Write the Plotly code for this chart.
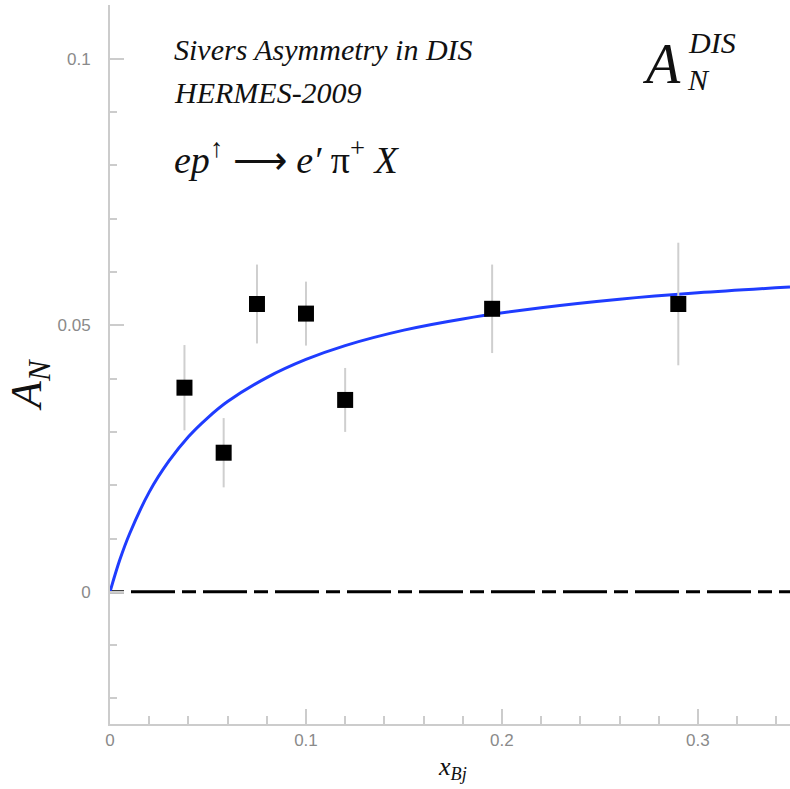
import plotly.graph_objects as go

# ---- data ----
x_data = [0.038, 0.058, 0.075, 0.100, 0.120, 0.195, 0.290]
y_data = [0.0383, 0.0261, 0.0540, 0.0522, 0.0360, 0.0531, 0.0540]
y_err = [0.0080, 0.0065, 0.0074, 0.0060, 0.0060, 0.0083, 0.0115]

x_curve = [0.0, 0.005, 0.01, 0.02, 0.03, 0.04, 0.05, 0.06, 0.08, 0.10,
           0.12, 0.15, 0.18, 0.22, 0.26, 0.30, 0.347]
y_curve = [0.0, 0.0060, 0.0109, 0.0187, 0.0245, 0.0291, 0.0327, 0.0357,
           0.0402, 0.0436, 0.0462, 0.0491, 0.0512, 0.0533, 0.0549, 0.0561, 0.0572]

x_zero = [0.0, 0.347]
y_zero = [0.0, 0.0]

x_ticks = [0, 0.1, 0.2, 0.3]
x_ticklabels = ["0", "0.1", "0.2", "0.3"]
y_ticks = [0, 0.05, 0.1]
y_ticklabels = ["0", "0.05", "0.1"]

X_RANGE = [0.0, 0.347]
Y_RANGE = [-0.0248, 0.1101]

W, H = 790, 789
ML, MR, MT, MB = 110, 0, 5, 65


def px(x):
    return (x - ML) / (W - ML - MR)


def py(y):
    return (H - MB - y) / (H - MT - MB)


fig = go.Figure()

fig.add_trace(go.Scatter(
    x=x_zero, y=y_zero, mode="lines",
    line=dict(color="black", width=3, dash="14px,7px,44px,7px"),
    hoverinfo="skip", showlegend=False))

fig.add_trace(go.Scatter(
    x=x_curve, y=y_curve, mode="lines",
    line=dict(color="#1f3cff", width=3, shape="spline"),
    showlegend=False))

fig.add_trace(go.Scatter(
    x=x_data, y=y_data, mode="markers",
    marker=dict(symbol="square", size=16, color="black"),
    error_y=dict(type="data", array=y_err, visible=True,
                 color="#cfcfcf", thickness=2, width=0),
    showlegend=False))

axis_common = dict(
    showgrid=False, zeroline=False, showline=True,
    linecolor="#cccccc", linewidth=2,
    ticks="inside", tickcolor="#cccccc", tickwidth=1.5,
    tickfont=dict(family="Liberation Sans", size=17, color="#8a8a8a"),
)

fig.update_xaxes(
    range=X_RANGE, tickvals=x_ticks, ticktext=x_ticklabels, ticklen=15,
    minor=dict(dtick=0.02, ticks="inside", ticklen=8, tickcolor="#cccccc", tickwidth=1.5),
    **axis_common)
fig.update_yaxes(
    range=Y_RANGE, tickvals=y_ticks, ticktext=y_ticklabels, ticklen=14,
    minor=dict(dtick=0.01, ticks="inside", ticklen=7, tickcolor="#cccccc", tickwidth=1.5),
    ticklabelstandoff=14,
    **axis_common)

serif = "Liberation Serif"
ann = []


def add(text, x, y, size, xanchor="left", yanchor="middle", angle=0):
    ann.append(dict(text=text, x=px(x), y=py(y), xref="paper", yref="paper",
                    xanchor=xanchor, yanchor=yanchor, showarrow=False,
                    textangle=angle,
                    font=dict(family=serif, size=size, color="#111111")))


add("<i>Sivers Asymmetry in DIS</i>", 172, 49, 30)
add("<i>HERMES-2009</i>", 172, 93, 30)
add("<i>ep</i><sup>↑</sup> ⟶ <i>e′</i> π<sup>+</sup> <i>X</i>", 172, 157, 38)
add("<i>A</i>", 640, 64, 56)
add("<i>DIS</i>", 686, 43, 30)
add("<i>N</i>", 685, 79, 30)
add("<i>A<sub>N</sub></i>", 30, 385, 44, xanchor="center", angle=-90)
add("<i>x<sub>Bj</sub></i>", 452, 768, 26, xanchor="center")

fig.update_layout(
    width=W, height=H,
    margin=dict(l=ML, r=MR, t=MT, b=MB),
    paper_bgcolor="white", plot_bgcolor="white",
    annotations=ann,
)

fig.write_html("out.html")
